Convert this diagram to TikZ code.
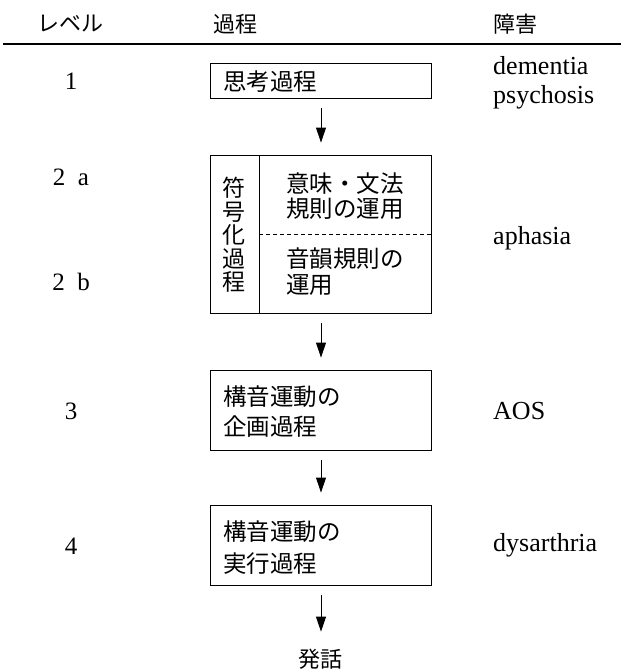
\documentclass[tikz,border=0pt]{standalone}
\usepackage{fontspec}
\setmainfont{Liberation Serif}
\newfontfamily\jp{Noto Sans CJK JP}
\usetikzlibrary{arrows.meta}
\begin{document}
\begin{tikzpicture}[x=1pt,y=-1pt,
  jhead/.style={font=\jp\fontsize{22}{26}\selectfont, inner sep=0pt},
  ltext/.style={font=\fontsize{26}{29}\selectfont, inner sep=0pt},
  ntext/.style={font=\fontsize{25}{29}\selectfont, inner sep=0pt},
  procbox/.style={draw, line width=0.9pt, minimum width=221pt, inner sep=0pt},
  boxtext/.style={font=\jp\fontsize{23.5}{30}\selectfont, align=left, anchor=west, inner sep=0pt},
  flow/.style={line width=0.9pt, -{Triangle[length=15pt,width=10pt]}}
]
\useasboundingbox (0,0) rectangle (621,672);

% header
\node[jhead] (hlev) at (70,24) {レベル};
\node[jhead] (hproc) at (235,24) {過程};
\node[jhead, anchor=west] (hdis) at (493,24) {障害};
\coordinate (rl) at (3,44);
\coordinate (rr) at (621,44);
\draw[line width=1.3pt] (rl) -- (rr);

% boxes
\node[procbox, minimum height=35pt] (b1) at (321,80.5) {};
\node[boxtext] (t1) at (223,81.5) {思考過程};

\node[procbox, minimum height=158pt] (enc) at (321,234) {};
\coordinate (vt) at (259,155);
\coordinate (vb) at (259,313);
\draw[line width=0.9pt] (vt) -- (vb);
\coordinate (dl) at (259,234);
\coordinate (dr) at (enc.east |- dl);
\draw[line width=0.8pt, dash pattern=on 4pt off 3pt] (dl) -- (dr);
\node[font=\jp\fontsize{23}{23.5}\selectfont, align=center, inner sep=0pt] (vert) at (234,235) {符\\号\\化\\過\\程};
\node[boxtext, font=\jp\fontsize{23.5}{25}\selectfont] (t2a) at (286,196) {意味・文法\\規則の運用};
\node[boxtext, font=\jp\fontsize{23.5}{26}\selectfont] (t2b) at (286,272) {音韻規則の\\運用};

\node[procbox, minimum height=80pt] (b3) at (321,410) {};
\node[boxtext, font=\jp\fontsize{23.5}{30}\selectfont] (t3) at (223,412) {構音運動の\\企画過程};

\node[procbox, minimum height=80pt] (b4) at (321,545) {};
\node[boxtext, font=\jp\fontsize{23.5}{32}\selectfont] (t4) at (223,548) {構音運動の\\実行過程};

\node[jhead] (out) at (320,659) {発話};

% arrows
\draw[flow, shorten <=10pt, shorten >=12pt] (b1.south) -- (enc.north);
\draw[flow, shorten <=10pt, shorten >=12pt] (enc.south) -- (b3.north);
\draw[flow, shorten <=10pt, shorten >=12pt] (b3.south) -- (b4.north);
\draw[flow, shorten <=10pt, shorten >=17pt] (b4.south) -- (b4.south |- out.north);

% levels
\node[ntext] (l1) at (71,81) {1};
\node[ntext] (l2a) at (71,177) {2\enspace a};
\node[ntext] (l2b) at (71,282) {2\enspace b};
\node[ntext] (l3) at (71,411) {3};
\node[ntext] (l4) at (71,546) {4};

% disorders
\node[ltext, anchor=west, align=left] (d1) at (493,83) {dementia\\psychosis};
\node[ltext, anchor=west] (d2) at (493,238) {aphasia};
\node[ltext, anchor=west] (d3) at (493,411) {AOS};
\node[ltext, anchor=west] (d4) at (493,545) {dysarthria};
\end{tikzpicture}
\end{document}
